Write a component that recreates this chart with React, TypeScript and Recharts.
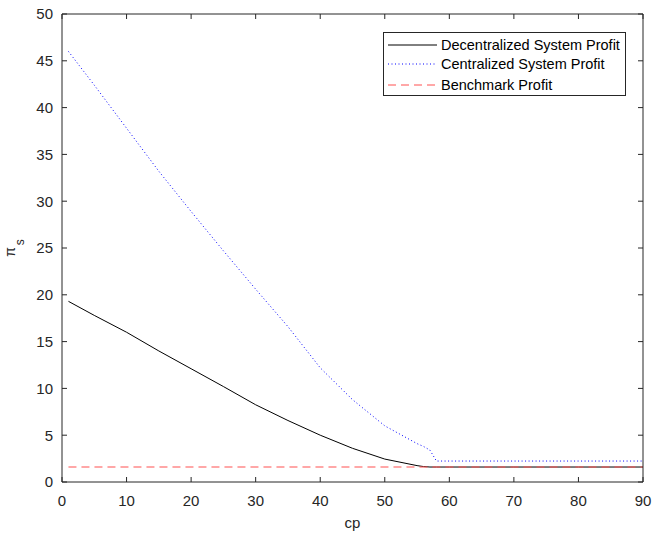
import React from 'react';
import { LineChart, Line, XAxis, YAxis, Legend } from 'recharts';

const cp = [1, 5, 10, 15, 20, 25, 30, 35, 40, 45, 50, 55, 56, 57, 58, 60, 70, 80, 90];
const decentralized = [19.3, 17.8, 16.0, 14.0, 12.1, 10.2, 8.25, 6.57, 5.0, 3.6, 2.45, 1.75, 1.65, 1.6, 1.6, 1.6, 1.6, 1.6, 1.6];
const centralized = [46.0, 42.4, 37.8, 33.2, 28.9, 24.7, 20.6, 16.6, 12.2, 8.8, 6.0, 4.1, 3.8, 3.4, 2.24, 2.24, 2.24, 2.24, 2.24];
const benchmark = [1.6, 1.6, 1.6, 1.6, 1.6, 1.6, 1.6, 1.6, 1.6, 1.6, 1.6, 1.6, 1.6, 1.6, 1.6, 1.6, 1.6, 1.6, 1.6];

const xTicks = [0, 10, 20, 30, 40, 50, 60, 70, 80, 90];
const yTicks = [0, 5, 10, 15, 20, 25, 30, 35, 40, 45, 50];

const seriesNames = ['Decentralized System Profit', 'Centralized System Profit', 'Benchmark Profit'];

const data = cp.map((c, i) => ({
  cp: c,
  dec: decentralized[i],
  cen: centralized[i],
  bench: benchmark[i],
}));

const FONT = '"Liberation Sans", Arial, Helvetica, sans-serif';
const AXIS = '#262626';
const TICK_LEN = 5;
const X_MARGIN = 13;
const Y_MARGIN = 9;
const EDGE_MARGIN = 4;

const legendItems = [
  { name: seriesNames[0], color: '#000000', dash: undefined as string | undefined },
  { name: seriesNames[1], color: '#0000ff', dash: '1 2.5' },
  { name: seriesNames[2], color: '#ff5050', dash: '8 5' },
];

const renderLegend = () => (
  <div
    style={{
      position: 'relative',
      width: 243,
      height: 64,
      border: '1px solid #262626',
      boxSizing: 'border-box',
      background: '#ffffff',
      fontFamily: FONT,
      fontSize: 14.5,
      color: '#000',
    }}
  >
    {legendItems.map((it, i) => {
      const cy = [12, 31.5, 52][i];
      return (
        <div key={it.name}>
          <svg width={50} height={4} style={{ position: 'absolute', left: 4, top: cy - 2 }}>
            <line x1={0} y1={2} x2={49} y2={2} stroke={it.color} strokeWidth={1} strokeDasharray={it.dash} />
          </svg>
          <div
            style={{
              position: 'absolute',
              left: 57.5,
              top: cy - 9,
              height: 18,
              lineHeight: '18px',
              whiteSpace: 'nowrap',
            }}
          >
            {it.name}
          </div>
        </div>
      );
    })}
  </div>
);

const BottomTick = (props: any) => {
  const { x, y, payload } = props;
  const axisY = y - X_MARGIN;
  return (
    <g>
      <line x1={x} x2={x} y1={axisY} y2={axisY - TICK_LEN} stroke={AXIS} strokeWidth={1} />
      <text x={x} y={y} dy="0.71em" textAnchor="middle" fill={AXIS} fontSize={15} fontFamily={FONT}>
        {payload.value}
      </text>
    </g>
  );
};

const LeftTick = (props: any) => {
  const { x, y, payload } = props;
  const axisX = x + Y_MARGIN;
  return (
    <g>
      <line x1={axisX} x2={axisX + TICK_LEN} y1={y} y2={y} stroke={AXIS} strokeWidth={1} />
      <text x={x} y={y} dy="0.355em" textAnchor="end" fill={AXIS} fontSize={15} fontFamily={FONT}>
        {payload.value}
      </text>
    </g>
  );
};

const TopTick = (props: any) => {
  const { x, y } = props;
  const axisY = y + EDGE_MARGIN;
  return <line x1={x} x2={x} y1={axisY} y2={axisY + TICK_LEN} stroke={AXIS} strokeWidth={1} />;
};

const RightTick = (props: any) => {
  const { x, y } = props;
  const axisX = x - EDGE_MARGIN;
  return <line x1={axisX} x2={axisX - TICK_LEN} y1={y} y2={y} stroke={AXIS} strokeWidth={1} />;
};

const YLabel = (props: any) => {
  const vb = props.viewBox || { x: 0, y: 14, width: 62, height: 468 };
  const cx = 15;
  const cy = vb.y + vb.height / 2;
  return (
    <text
      x={cx}
      y={cy}
      transform={`rotate(-90 ${cx} ${cy})`}
      textAnchor="middle"
      fill={AXIS}
      fontFamily={FONT}
      fontSize={14}
    >
      <tspan>π</tspan>
      <tspan dx={2} dy={9} fontSize={12}>s</tspan>
    </text>
  );
};

export default function App() {
  return (
    <div style={{ position: 'absolute', left: 0, top: 0, width: 653, height: 533, background: '#fff' }}>
      <LineChart
        width={653}
        height={533}
        data={data}
        margin={{ top: 13, right: 9, bottom: 0, left: 0 }}
        style={{ fontFamily: FONT }}
      >
        <XAxis
          dataKey="cp"
          type="number"
          domain={[0, 90]}
          ticks={xTicks}
          interval={0}
          height={51}
          tickSize={0}
          tickMargin={X_MARGIN}
          tickLine={false}
          stroke={AXIS}
          tick={<BottomTick />}
          axisLine={{ stroke: AXIS }}
          label={{ value: 'cp', position: 'insideBottom', offset: 5, fill: AXIS, fontSize: 15, fontFamily: FONT }}
        />
        <XAxis
          xAxisId="top"
          dataKey="cp"
          type="number"
          orientation="top"
          domain={[0, 90]}
          ticks={xTicks}
          interval={0}
          height={1}
          tickSize={0}
          tickMargin={EDGE_MARGIN}
          tickLine={false}
          tick={<TopTick />}
          stroke={AXIS}
          axisLine={{ stroke: AXIS }}
        />
        <YAxis
          type="number"
          domain={[0, 50]}
          ticks={yTicks}
          interval={0}
          width={62}
          tickSize={0}
          tickMargin={Y_MARGIN}
          tickLine={false}
          stroke={AXIS}
          tick={<LeftTick />}
          axisLine={{ stroke: AXIS }}
          label={<YLabel />}
        />
        <YAxis
          yAxisId="right"
          type="number"
          orientation="right"
          domain={[0, 50]}
          ticks={yTicks}
          interval={0}
          width={1}
          tickSize={0}
          tickMargin={EDGE_MARGIN}
          tickLine={false}
          tick={<RightTick />}
          stroke={AXIS}
          axisLine={{ stroke: AXIS }}
        />
        <Legend
          layout="vertical"
          align="center"
          verticalAlign="middle"
          content={renderLegend}
          wrapperStyle={{ position: 'absolute', left: 382.5, top: 31.5, width: 243, height: 64 }}
        />
        <Line
          xAxisId="top"
          yAxisId="right"
          dataKey="bench"
          stroke="none"
          dot={false}
          activeDot={false}
          legendType="none"
          isAnimationActive={false}
        />
        <Line
          name={seriesNames[0]}
          dataKey="dec"
          type="linear"
          stroke="#000000"
          strokeWidth={1}
          dot={false}
          activeDot={false}
          isAnimationActive={false}
        />
        <Line
          name={seriesNames[1]}
          dataKey="cen"
          type="linear"
          stroke="#0000ff"
          strokeWidth={1}
          strokeDasharray="1 2.5"
          dot={false}
          activeDot={false}
          isAnimationActive={false}
        />
        <Line
          name={seriesNames[2]}
          dataKey="bench"
          type="linear"
          stroke="#ff5050"
          strokeWidth={1.2}
          strokeDasharray="8 5"
          dot={false}
          activeDot={false}
          isAnimationActive={false}
        />
      </LineChart>
    </div>
  );
}
